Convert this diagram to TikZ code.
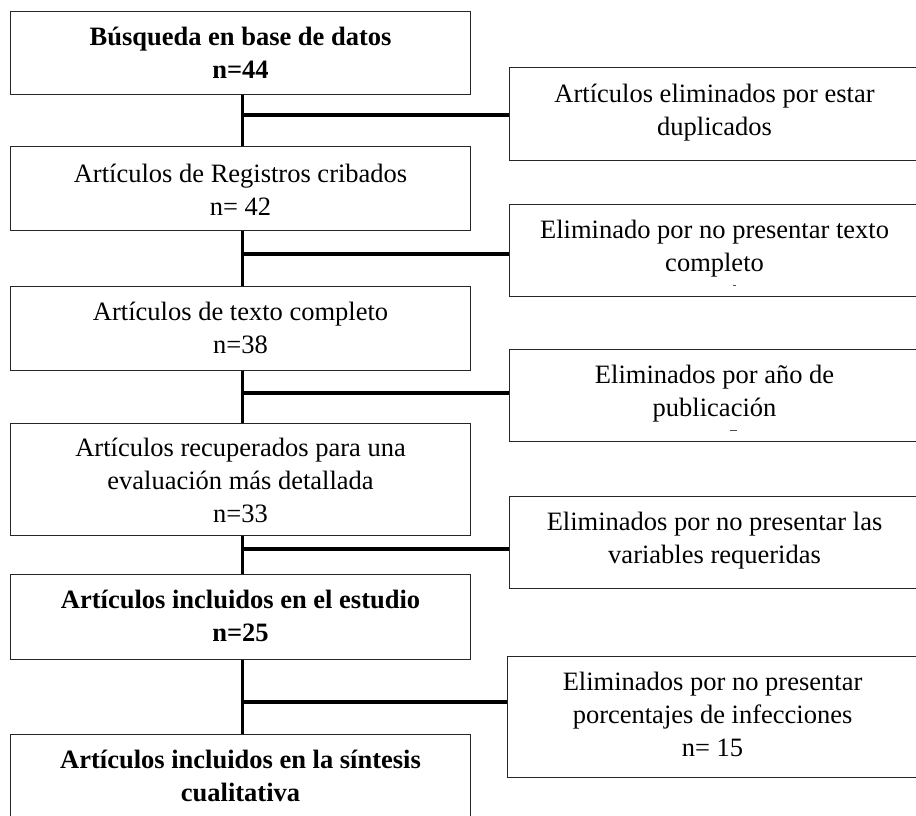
\documentclass[tikz,border=0pt]{standalone}
\usepackage{fontspec}
\setmainfont{Liberation Serif}
\begin{document}
\begin{tikzpicture}[x=1pt,y=-1pt,
  box/.style={draw=black!85, line width=1.1pt, rectangle, inner sep=0pt, anchor=north west},
  lbox/.style={box, minimum width=460pt},
  rbox/.style={box, minimum width=410pt},
  txt/.style={align=center, inner sep=0pt, anchor=north, font=\fontsize{26.5}{33}\selectfont},
  txtb/.style={txt, font=\fontsize{26.5}{33}\selectfont\bfseries},
  link/.style={line width=3.6pt, black}]
\useasboundingbox (0,0) rectangle (916,816);
\clip (0,0) rectangle (916,816);
% left column
\node[lbox, minimum height=83pt] (b1) at (10,11) {};
\node[lbox, minimum height=84pt] (b2) at (10,146) {};
\node[lbox, minimum height=84pt] (b3) at (10,286) {};
\node[lbox, minimum height=112pt] (b4) at (10,423) {};
\node[lbox, minimum height=85pt] (b5) at (10,574) {};
\node[lbox, minimum height=100pt] (b6) at (10,734) {};
% right column
\node[rbox, minimum height=93pt] (r1) at (509,67) {};
\node[rbox, minimum height=92pt] (r2) at (509,204) {};
\node[rbox, minimum height=92pt] (r3) at (509,349) {};
\node[rbox, minimum height=92pt] (r4) at (509,496) {};
\node[rbox, minimum height=121pt] (r5) at (507,656) {};
% texts
\node[txtb] (t1) at ([yshift=-10.9pt]b1.north) {\strut Búsqueda en base de datos\\n=44};
\node[txt] (t2) at ([yshift=-12.9pt]b2.north) {\strut Artículos de Registros cribados\\n= 42};
\node[txt] (t3) at ([yshift=-10.9pt]b3.north) {\strut Artículos de texto completo\\n=38};
\node[txt] (t4) at ([yshift=-9.9pt]b4.north) {\strut Artículos recuperados para una\\evaluación más detallada\\n=33};
\node[txtb] (t5) at ([yshift=-10.9pt]b5.north) {\strut Artículos incluidos en el estudio\\n=25};
\node[txtb] (t6) at ([yshift=-10.9pt]b6.north) {\strut Artículos incluidos en la síntesis\\cualitativa};
\node[txt] (s1) at ([yshift=-11.9pt]r1.north) {\strut Artículos eliminados por estar\\duplicados};
\node[txt] (s2) at ([yshift=-10.9pt]r2.north) {\strut Eliminado por no presentar texto\\completo};
\node[txt] (s3) at ([yshift=-10.9pt]r3.north) {\strut Eliminados por año de\\publicación};
\node[txt] (s4) at ([yshift=-10.9pt]r4.north) {\strut Eliminados por no presentar las\\variables requeridas};
\node[txt] (s5) at ([yshift=-10.9pt]r5.north) {\strut Eliminados por no presentar\\porcentajes de infecciones\\n= 15};
% small stray marks
\draw[line width=0.9pt, black!70] (733,285) -- (736,285);
\draw[line width=0.9pt, black!70] (730,430) -- (737,430);
% connectors
\draw[link] ([xshift=2pt]b1.south) -- ([xshift=2pt]b2.north);
\draw[link] ([xshift=2pt]b2.south) -- ([xshift=2pt]b3.north);
\draw[link] ([xshift=2pt]b3.south) -- ([xshift=2pt]b4.north);
\draw[link] ([xshift=2pt]b4.south) -- ([xshift=2pt]b5.north);
\draw[link] ([xshift=2pt]b5.south) -- ([xshift=2pt]b6.north);
\coordinate (j1) at (242,115);
\coordinate (j2) at (242,254);
\coordinate (j3) at (242,393);
\coordinate (j4) at (242,549);
\coordinate (j5) at (242,702);
\draw[link] (j1) -- (j1 -| r1.west);
\draw[link] (j2) -- (j2 -| r2.west);
\draw[link] (j3) -- (j3 -| r3.west);
\draw[link] (j4) -- (j4 -| r4.west);
\draw[link] (j5) -- (j5 -| r5.west);
\end{tikzpicture}
\end{document}
